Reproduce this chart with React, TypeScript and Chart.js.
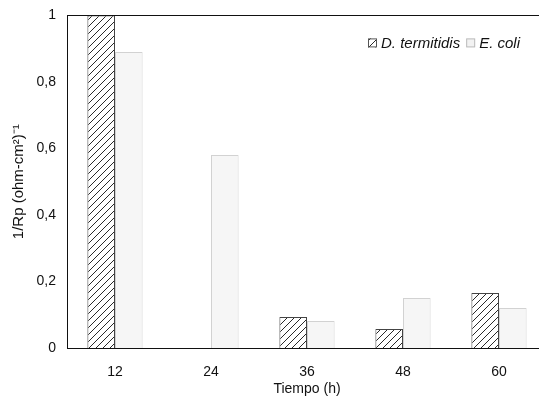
import React, { useEffect, useRef } from "react";
import { Chart, registerables } from "chart.js";

Chart.register(...registerables);

const categories = ["12", "24", "36", "48", "60"];
const dTermitidis = [1.0, 0, 0.093, 0.057, 0.165];
const eColi = [0.89, 0.58, 0.081, 0.15, 0.12];
const seriesNames = ["D. termitidis", "E. coli"];
const yTicks = [0, 0.2, 0.4, 0.6, 0.8, 1];

const FONT = "'Liberation Sans', Arial, sans-serif";

function makeHatch(): CanvasPattern | string {
  const c = document.createElement("canvas");
  const s = 7;
  c.width = s;
  c.height = s;
  const g = c.getContext("2d");
  if (!g) return "#888";
  g.fillStyle = "#ffffff";
  g.fillRect(0, 0, s, s);
  g.strokeStyle = "#2a2a2a";
  g.lineWidth = 1;
  g.beginPath();
  g.moveTo(-1, s + 1);
  g.lineTo(s + 1, -1);
  g.moveTo(-1, 1);
  g.lineTo(1, -1);
  g.moveTo(s - 1, s + 1);
  g.lineTo(s + 1, s - 1);
  g.stroke();
  const p = g.createPattern(c, "repeat");
  return p || "#888";
}

export default function App() {
  const ref = useRef<HTMLCanvasElement | null>(null);

  useEffect(() => {
    if (!ref.current) return;
    const hatch = makeHatch();

    const framePlugin = {
      id: "frame",
      afterDatasetsDraw(chart: any) {
        const { ctx, chartArea } = chart;
        ctx.save();
        ctx.strokeStyle = "#111";
        ctx.lineWidth = 1;
        ctx.strokeRect(
          Math.round(chartArea.left) + 0.5,
          Math.round(chartArea.top) + 0.5,
          Math.round(chartArea.right - chartArea.left),
          Math.round(chartArea.bottom - chartArea.top)
        );
        ctx.restore();
      },
    };

    const legendPlugin = {
      id: "innerLegend",
      afterDraw(chart: any) {
        const { ctx, chartArea } = chart;
        const y = chartArea.top + 28;
        let x = chartArea.left + 301;
        ctx.save();
        ctx.font = `italic 15px ${FONT}`;
        ctx.textBaseline = "middle";
        ctx.fillStyle = "#111";
        const styles = [
          { fill: hatch, stroke: "#555" },
          { fill: "#f2f2f2", stroke: "#bbb" },
        ];
        seriesNames.forEach((name, i) => {
          ctx.fillStyle = styles[i].fill as any;
          ctx.fillRect(x, y - 5, 9, 9);
          ctx.strokeStyle = styles[i].stroke;
          ctx.strokeRect(x + 0.5, y - 4.5, 8, 8);
          ctx.fillStyle = "#111";
          ctx.fillText(name, x + 13, y);
          x += 13 + ctx.measureText(name).width + 6;
        });
        ctx.restore();
      },
    };

    const chart = new Chart(ref.current, {
      type: "bar",
      data: {
        labels: categories,
        datasets: [
          {
            label: seriesNames[0],
            data: dTermitidis,
            backgroundColor: hatch as any,
            borderColor: "#444",
            borderWidth: 1,
            categoryPercentage: 0.575,
            barPercentage: 1,
          },
          {
            label: seriesNames[1],
            data: eColi,
            backgroundColor: "#f6f6f6",
            borderColor: "#d2d2d2",
            borderWidth: 1,
            categoryPercentage: 0.575,
            barPercentage: 1,
          },
        ],
      },
      options: {
        animation: false,
        responsive: false,
        maintainAspectRatio: false,
        layout: { padding: { left: 0, right: 13, top: 0, bottom: 0 } },
        plugins: {
          legend: { display: false },
          tooltip: { enabled: false },
        },
        scales: {
          x: {
            grid: { display: false, drawTicks: false },
            border: { display: true, color: "#111" },
            ticks: {
              color: "#111",
              font: { family: FONT, size: 14 },
              padding: 16,
            },
            title: {
              display: true,
              text: "Tiempo (h)",
              color: "#111",
              font: { family: FONT, size: 14 },
              padding: { top: 0, bottom: 3 },
            },
            afterFit(scale: any) {
              scale.height = 53;
            },
          },
          y: {
            min: 0,
            max: 1,
            grid: { display: false, drawTicks: false },
            border: { display: true, color: "#111" },
            afterBuildTicks(scale: any) {
              scale.ticks = yTicks.map((v) => ({ value: v }));
            },
            ticks: {
              color: "#111",
              font: { family: FONT, size: 14 },
              padding: 11,
              callback: (v: any) => String(Number(v)).replace(".", ","),
            },
            title: {
              display: true,
              text: "1/Rp (ohm-cm²)⁻¹",
              color: "#111",
              font: { family: FONT, size: 15 },
              padding: { top: 10, bottom: 0 },
            },
            afterFit(scale: any) {
              scale.width = 67;
            },
          },
        },
      },
      plugins: [framePlugin, legendPlugin],
    });

    return () => chart.destroy();
  }, []);

  return (
    <div
      style={{
        position: "fixed",
        left: 0,
        top: 0,
        width: 539,
        height: 401,
        overflow: "hidden",
        background: "#fff",
      }}
    >
      <canvas
        ref={ref}
        width={560}
        height={405}
        style={{ display: "block", position: "absolute", left: 0, top: -4 }}
      />
    </div>
  );
}
